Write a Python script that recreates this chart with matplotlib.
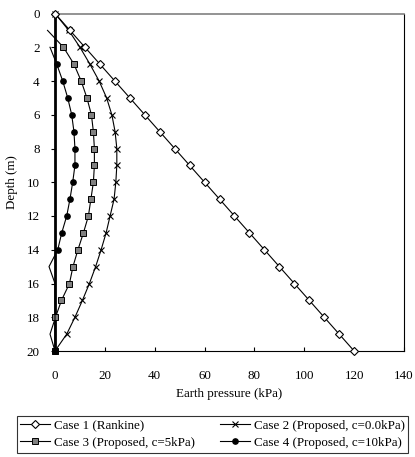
import matplotlib
matplotlib.use("Agg")
from matplotlib import pyplot as plt

plt.rcParams['font.family'] = ['Liberation Serif', 'DejaVu Serif']
plt.rcParams['font.size'] = 9.4

# Profundidades (m)
depth_c1 = [0, 1, 2, 3, 4, 5, 6, 7, 8, 9, 10, 11, 12, 13, 14, 15, 16, 17, 18, 19, 20]
p_case1 = [0, 6, 12, 18, 24, 30, 36, 42, 48, 54, 60, 66, 72, 78, 84, 90, 96, 102, 108, 114, 120]

depth_c2 = [0, 1, 2, 3, 4, 5, 6, 7, 8, 9, 10, 11, 12, 13, 14, 15, 16, 17, 18, 19, 20]
p_case2 = [0, 5.5, 10.0, 14.0, 17.7, 20.7, 22.8, 24.1, 24.8, 24.8, 24.4, 23.7, 22.1,
           20.5, 18.5, 16.3, 13.8, 11.0, 8.0, 4.7, 0]

# caso 3: el tramo a 1 m y 19 m es solo linea (sin marcador)
depth_c3 = [1, 2, 3, 4, 5, 6, 7, 8, 9, 10, 11, 12, 13, 14, 15, 16, 17, 18, 19, 20]
p_case3 = [-3.0, 3.4, 7.6, 10.5, 12.8, 14.6, 15.4, 15.8, 15.8, 15.4, 14.4, 13.4, 11.4,
           9.2, 7.2, 5.8, 2.6, 0.2, -2.0, 0]
marks_c3 = [1, 2, 3, 4, 5, 6, 7, 8, 9, 10, 11, 12, 13, 14, 15, 16, 17, 19]

# caso 4: igual, el tramo a 2 m y 15 m sin marcador
depth_c4 = [2, 3, 4, 5, 6, 7, 8, 9, 10, 11, 12, 13, 14, 15, 16, 17, 18, 19, 20]
p_case4 = [-2.0, 0.7, 3.1, 5.1, 6.7, 7.6, 8.0, 8.0, 7.1, 6.0, 4.7, 2.7, 1.1, -2.4,
           0, 0, 0, 0, 0]
marks_c4 = [1, 2, 3, 4, 5, 6, 7, 8, 9, 10, 11, 12, 18]

labels = ['Case 1 (Rankine)', 'Case 2 (Proposed, c=0.0kPa)',
          'Case 3 (Proposed, c=5kPa)', 'Case 4 (Proposed, c=10kPa)']

fig = plt.figure(figsize=(4.15, 4.57), dpi=100)
ax = fig.add_axes([55 / 415, 1 - 351 / 457, 349 / 415, 337.5 / 457])

l1, = ax.plot(p_case1, depth_c1, '-', color='black', lw=0.8, marker='D', ms=4.2,
              mfc='white', mec='black', mew=0.8, clip_on=False, zorder=4)
l2, = ax.plot(p_case2, depth_c2, '-', color='black', lw=0.8, marker='x', ms=4.5,
              mew=0.8, clip_on=False, zorder=3)
l3, = ax.plot(p_case3, depth_c3, '-', color='black', lw=0.8, marker='s', ms=5,
              mfc='#808080', mec='black', mew=0.7, markevery=marks_c3, clip_on=False, zorder=3)
l4, = ax.plot(p_case4, depth_c4, '-', color='black', lw=0.8, marker='o', ms=3.8,
              mfc='black', mec='black', markevery=marks_c4, clip_on=False, zorder=3)

ax.set_xlim(0, 140)
ax.set_ylim(20, 0)
ax.set_xticks(range(0, 141, 20))
ax.set_yticks(range(0, 21, 2))
ax.tick_params(axis='x', direction='in', length=3, width=0.8, pad=14)
ax.tick_params(axis='y', direction='out', length=3, width=0.8, pad=8)
ax.set_xlabel('Earth pressure (kPa)', labelpad=4)
ax.set_ylabel('Depth (m)', labelpad=6)

ax.spines['left'].set_linewidth(2.0)
ax.spines['top'].set_color('#808080')
ax.spines['top'].set_linewidth(1.2)
ax.spines['right'].set_linewidth(0.8)
ax.spines['bottom'].set_linewidth(0.8)

# orden por filas como en la figura original
leg = fig.legend([l1, l3, l2, l4], [labels[0], labels[2], labels[1], labels[3]], ncol=2,
                 loc='upper left', bbox_to_anchor=(10 / 415, 1 - 409 / 457, 405 / 415, 0),
                 mode='expand', frameon=True, fancybox=False, edgecolor='black',
                 handlelength=2.3, handletextpad=0.3, borderpad=0.3, labelspacing=0.4,
                 fontsize=9.4)
leg.get_frame().set_linewidth(0.8)

fig.savefig('out.png', dpi=100)
